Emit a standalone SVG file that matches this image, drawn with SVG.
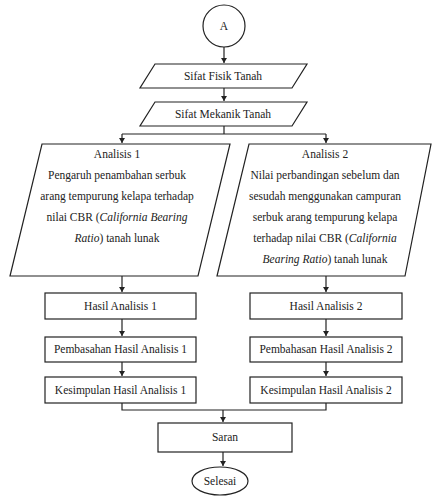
<svg xmlns="http://www.w3.org/2000/svg" width="432" height="497" viewBox="0 0 432 497">
<defs>
<marker id="ah" markerWidth="6" markerHeight="6" refX="5" refY="3" orient="auto" markerUnits="userSpaceOnUse">
<path d="M0,0 L5,3 L0,6 Z" fill="#222"/>
</marker>
<style>
.s{fill:#fff;stroke:#222;stroke-width:1.2}
.t{font-family:"Liberation Serif","Times New Roman",serif;font-size:11.5px;fill:#222;text-anchor:middle}
.c{fill:none;stroke:#222;stroke-width:1.2}
.a{marker-end:url(#ah)}
</style>
</defs>
<rect width="432" height="497" fill="#fff"/>
<g id="connectors">
<path class="c a" d="M224,47 V63"/>
<path class="c a" d="M224,88 V101"/>
<path class="c" d="M224,126 V134 M122,134 H326"/>
<path class="c a" d="M122,134 V143"/>
<path class="c a" d="M326,134 V143"/>
<path class="c a" d="M122,276 V292"/>
<path class="c a" d="M326,276 V292"/>
<path class="c a" d="M122,319 V336"/>
<path class="c a" d="M326,319 V336"/>
<path class="c a" d="M122,362 V376"/>
<path class="c a" d="M326,362 V376"/>
<path class="c" d="M122,403 V410 H326 V403"/>
<path class="c a" d="M223,410 V422"/>
<path class="c a" d="M223,452 V466"/>
</g>
<g id="start">
<circle class="s" cx="224" cy="26" r="21"/>
<text class="t" x="224" y="30">A</text>
</g>
<g id="sifat-fisik">
<polygon class="s" points="155,64 307,64 292,88 140,88"/>
<text class="t" x="223" y="80">Sifat Fisik Tanah</text>
</g>
<g id="sifat-mekanik">
<polygon class="s" points="155,102 307,102 292,126 140,126"/>
<text class="t" x="223" y="118">Sifat Mekanik Tanah</text>
</g>
<g id="analisis1">
<polygon class="s" points="42,144 230,144 198,276 10,276"/>
<text class="t" x="117" y="158">Analisis 1</text>
<text class="t" x="117" y="179">Pengaruh penambahan serbuk</text>
<text class="t" x="117" y="200">arang tempurung kelapa terhadap</text>
<text class="t" x="117" y="221">nilai CBR (<tspan font-style="italic">California Bearing</tspan></text>
<text class="t" x="117" y="242"><tspan font-style="italic">Ratio</tspan>) tanah lunak</text>
</g>
<g id="analisis2">
<polygon class="s" points="249,144 431,144 405,276 217,276"/>
<text class="t" x="325" y="158">Analisis 2</text>
<text class="t" x="325" y="179">Nilai perbandingan sebelum dan</text>
<text class="t" x="325" y="200">sesudah menggunakan campuran</text>
<text class="t" x="325" y="221">serbuk arang tempurung kelapa</text>
<text class="t" x="325" y="242">terhadap nilai CBR (<tspan font-style="italic">California</tspan></text>
<text class="t" x="325" y="263"><tspan font-style="italic">Bearing Ratio</tspan>) tanah lunak</text>
</g>
<g id="hasil1">
<rect class="s" x="45" y="293" width="151" height="26"/>
<text class="t" x="120.5" y="310">Hasil Analisis 1</text>
</g>
<g id="hasil2">
<rect class="s" x="250" y="293" width="152" height="26"/>
<text class="t" x="326" y="310">Hasil Analisis 2</text>
</g>
<g id="pembahasan1">
<rect class="s" x="45" y="337" width="151" height="25"/>
<text class="t" x="120.5" y="353">Pembasahan Hasil Analisis 1</text>
</g>
<g id="pembahasan2">
<rect class="s" x="250" y="337" width="152" height="25"/>
<text class="t" x="326" y="353">Pembahasan Hasil Analisis 2</text>
</g>
<g id="kesimpulan1">
<rect class="s" x="45" y="377" width="151" height="26"/>
<text class="t" x="120.5" y="394">Kesimpulan Hasil Analisis 1</text>
</g>
<g id="kesimpulan2">
<rect class="s" x="250" y="377" width="152" height="26"/>
<text class="t" x="326" y="394">Kesimpulan Hasil Analisis 2</text>
</g>
<g id="saran">
<rect class="s" x="158" y="423" width="134" height="29"/>
<text class="t" x="225" y="441">Saran</text>
</g>
<g id="selesai">
<ellipse class="s" cx="220" cy="481" rx="28" ry="14"/>
<text class="t" x="220" y="485">Selesai</text>
</g>
</svg>
